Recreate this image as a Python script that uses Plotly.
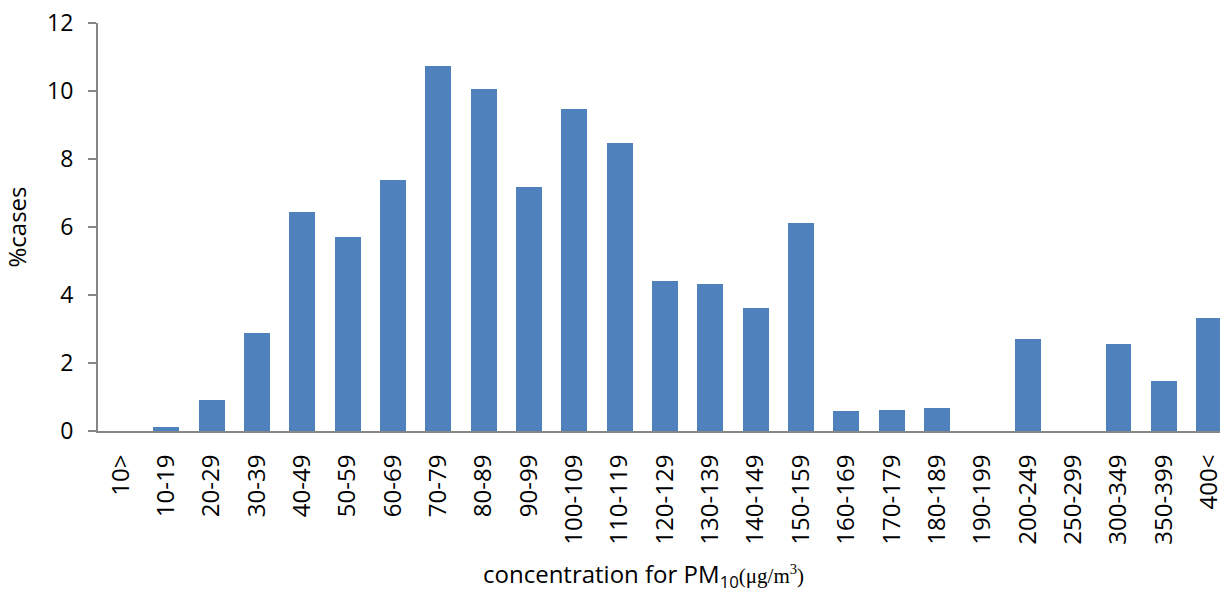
import plotly.graph_objects as go

categories = ["10>", "10-19", "20-29", "30-39", "40-49", "50-59", "60-69", "70-79",
              "80-89", "90-99", "100-109", "110-119", "120-129", "130-139", "140-149",
              "150-159", "160-169", "170-179", "180-189", "190-199", "200-249",
              "250-299", "300-349", "350-399", "400<"]
pct_cases = [0, 0.13, 0.92, 2.87, 6.44, 5.70, 7.38, 10.73, 10.07, 7.19, 9.48, 8.46,
             4.41, 4.31, 3.62, 6.11, 0.60, 0.63, 0.67, 0, 2.70, 0, 2.57, 1.47, 3.33]
y_ticks = [0, 2, 4, 6, 8, 10, 12]

fig = go.Figure(go.Bar(
    x=list(range(len(categories))), y=pct_cases,
    width=0.57,
    marker=dict(color="#4F81BD", line=dict(width=0)),
))

fig.update_layout(
    width=1224, height=592,
    margin=dict(l=98, r=0, t=23, b=161),
    paper_bgcolor="white", plot_bgcolor="white",
    font=dict(family="Open Sans, Liberation Sans, sans-serif", color="black", size=21),
    showlegend=False,
    bargap=0,
)
fig.update_xaxes(
    range=[-0.505, 24.24],
    tickmode="array", tickvals=list(range(len(categories))), ticktext=categories,
    tickangle=-90, tickfont=dict(size=24),
    ticklabeloverflow="allow",
    showline=True, linecolor="#868686", linewidth=2,
    ticks="", showgrid=False, zeroline=False,
    ticklabelstandoff=12,
)
fig.update_yaxes(
    range=[0, 12], tickvals=y_ticks,
    showline=True, linecolor="#868686", linewidth=2,
    ticks="outside", ticklen=8, tickcolor="#868686", tickwidth=2,
    showgrid=False, zeroline=False,
    tickfont=dict(size=23), ticklabelstandoff=10,
    title=dict(text="%cases", font=dict(size=24), standoff=16),
)
fig.add_annotation(
    xref="paper", yref="paper", x=(645 - 98) / 1126, y=(431 - 575) / 408,
    xanchor="center", yanchor="middle", showarrow=False,
    text="concentration for PM<sub>10</sub><span style='font-family:Liberation Serif, Times New Roman, serif;font-size:21px'>(μg/m<sup>3</sup>)</span>",
    font=dict(size=24),
)

fig.write_html("out.html", config={"displayModeBar": False},
               post_script="document.body.style.margin='0';document.body.style.overflow='hidden';")
